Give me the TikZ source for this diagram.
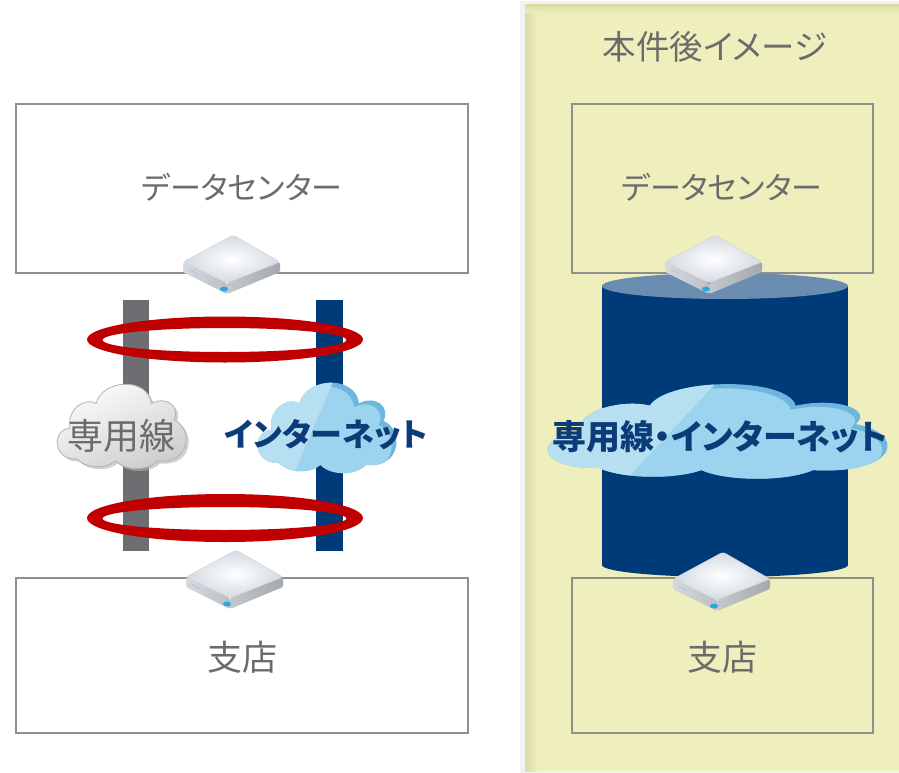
\documentclass[tikz,border=0pt]{standalone}
\usepackage{fontspec}
\setmainfont{Noto Sans CJK JP}[CharacterWidth=AlternateProportional]
\usetikzlibrary{shadings}

\definecolor{txtgray}{HTML}{6B6B6B}
\definecolor{boxline}{HTML}{8F8F8F}
\definecolor{navy}{HTML}{003B79}
\definecolor{ringred}{HTML}{C00000}
\definecolor{bargray}{HTML}{6E6E72}
\definecolor{panelfill}{HTML}{EFEFBE}
\definecolor{paneledge}{HTML}{DCDCA4}
\definecolor{cyltop}{HTML}{6A8CB1}
\definecolor{skyA}{HTML}{9CD3EE}
\definecolor{skyL}{HTML}{B7DFF2}
\definecolor{skyD}{HTML}{6FB6DE}
\definecolor{cloudtxt}{HTML}{0B3C78}
\definecolor{ledblue}{HTML}{2AA6E0}
\definecolor{topouter}{HTML}{D3DAE2}
\definecolor{sideA}{HTML}{D6D9DD}
\definecolor{sideB}{HTML}{BCC0C5}
\definecolor{sideC}{HTML}{C4C8CC}
\definecolor{sideD}{HTML}{A4A9AE}

% cloud outline in a unit box, y pointing down
\newcommand\cloudpath{(-0.70,0.80) .. controls (-1.05,0.85) and (-1.10,0.10) .. (-0.80,0.05)
  .. controls (-0.85,-0.45) and (-0.55,-0.70) .. (-0.40,-0.55)
  .. controls (-0.30,-1.15) and (0.40,-1.20) .. (0.45,-0.55)
  .. controls (0.70,-0.75) and (0.90,-0.45) .. (0.80,-0.15)
  .. controls (1.10,0.05) and (1.05,0.95) .. (0.55,0.85)
  .. controls (0.40,1.10) and (0.05,1.10) .. (-0.10,0.85)
  .. controls (-0.25,1.05) and (-0.55,1.05) .. (-0.70,0.80) -- cycle}

\tikzset{
  sitebox/.style={draw=boxline, line width=1.3pt},
  label/.style={text=txtgray, inner sep=0pt},
  nettext/.style={text=cloudtxt, inner sep=0pt, font=\bfseries\fontsize{34}{38}\selectfont},
  router/.pic={
    % left side face
    \shade[left color=sideA, right color=sideB, rounded corners=1.5pt]
      (-50,27) -- (-6,48) -- (-6,59) -- (-50,37) -- cycle;
    % right side face
    \shade[left color=sideC, right color=sideD, rounded corners=1.5pt]
      (-6,48) -- (47,27) -- (47,37) -- (-6,59) -- cycle;
    % top face
    \shade[inner color=white, outer color=topouter, draw=black!18, line width=0.4pt,
           rounded corners=3pt]
      (0,0) -- (47,27) -- (-6,48) -- (-50,27) -- cycle;
    % status lights
    \fill[ledblue] (-9,54) ellipse [x radius=4pt, y radius=2.4pt];
    \fill[ledblue!60] (-43,35) circle [radius=0.8pt] (-40,36.5) circle [radius=0.8pt]
      (-37,38) circle [radius=0.8pt];
  }
}

\begin{document}
\begin{tikzpicture}[x=1pt, y=-1pt]
\useasboundingbox (0,0) rectangle (899,773);
\fill[white] (0,0) rectangle (899,773);

% ---------- right panel background ----------
\fill[black!5] (520,1) rectangle (899,773);
\fill[panelfill] (525,5) rectangle (899,771);
\shade[left color=paneledge, right color=panelfill] (525,5) rectangle (538,771);
\shade[top color=paneledge, bottom color=panelfill] (525,5) rectangle (899,13);
\node[label, font=\fontsize{33.5}{37}\selectfont] (title) at (715,47) {本件後イメージ};

% ---------- left side: current setup ----------
\draw[sitebox, fill=white] (16,104) rectangle (468,273);
\draw[sitebox, fill=white] (16,578) rectangle (468,733);
\node[label, font=\fontsize{31}{34}\selectfont] (dcL) at (242,187) {データセンター};
\node[label, font=\fontsize{35}{38}\selectfont] (brL) at (242,657) {支店};

% the two lines
\fill[bargray] (123,300) rectangle (149,551);
\fill[navy] (316,300) rectangle (343,551);

% leased line cloud
\begin{scope}[shift={(122,426)}, xscale=65, yscale=41]
  \begin{scope}[shift={(0.04,0.06)}]
    \fill[black!30, opacity=0.6] \cloudpath;
  \end{scope}
  \shade[shading=axis, top color=white, bottom color=black!20, shading angle=25,
         draw=black!30, line width=0.8pt] \cloudpath;
\end{scope}
\node[label, font=\fontsize{36}{40}\selectfont] (leased) at (121,436) {専用線};

% internet cloud
\begin{scope}[shift={(327.5,427.5)}, xscale=70, yscale=44]
  \begin{scope}
    \clip \cloudpath;
    \fill[skyD] (-1.2,-1.3) rectangle (1.2,1.3);
    \begin{scope}[shift={(-0.07,0.09)}]
      \fill[skyA] \cloudpath;
    \end{scope}
    \fill[skyL] (-1.2,-1.3) -- (0.15,-1.3) -- (-0.55,1.3) -- (-1.2,1.3) -- cycle;
  \end{scope}
\end{scope}
\node[nettext, font=\bfseries\fontsize{32}{36}\selectfont] (inet) at (326,435) {インターネット};

% redundancy rings
\fill[ringred, even odd rule]
  (225,339.5) ellipse [x radius=138pt, y radius=23pt]
  (224.5,340) ellipse [x radius=122pt, y radius=12pt];
\fill[ringred, even odd rule]
  (225,518) ellipse [x radius=138pt, y radius=24pt]
  (224.5,518.5) ellipse [x radius=122pt, y radius=11.5pt];

\pic at (233,235) {router};
\pic at (236,550) {router};

% ---------- right side: after ----------
\draw[sitebox] (572,104) rectangle (873,273);
\draw[sitebox] (572,578) rectangle (873,733);
\node[label, font=\fontsize{31}{34}\selectfont] (dcR) at (722,187) {データセンター};
\node[label, font=\fontsize{35}{38}\selectfont] (brR) at (722,657) {支店};

% combined network as a cylinder
\fill[navy] (602,286) rectangle (848,565);
\fill[navy] (725,565) ellipse [x radius=123pt, y radius=12pt];
\fill[cyltop] (725,286) ellipse [x radius=123pt, y radius=13pt];

% combined cloud
\begin{scope}[shift={(718.5,431)}, xscale=171.5, yscale=46]
  \begin{scope}
    \clip \cloudpath;
    \fill[skyD] (-1.2,-1.3) rectangle (1.2,1.3);
    \begin{scope}[shift={(-0.03,0.09)}]
      \fill[skyA] \cloudpath;
    \end{scope}
    \fill[skyL] (-1.2,-1.3) -- (0.05,-1.3) -- (-0.6,1.3) -- (-1.2,1.3) -- cycle;
  \end{scope}
\end{scope}
\node[nettext] (both) at (720,437) {専用線・インターネット};

\pic at (715,235) {router};
\pic at (723,552) {router};
\end{tikzpicture}
\end{document}
